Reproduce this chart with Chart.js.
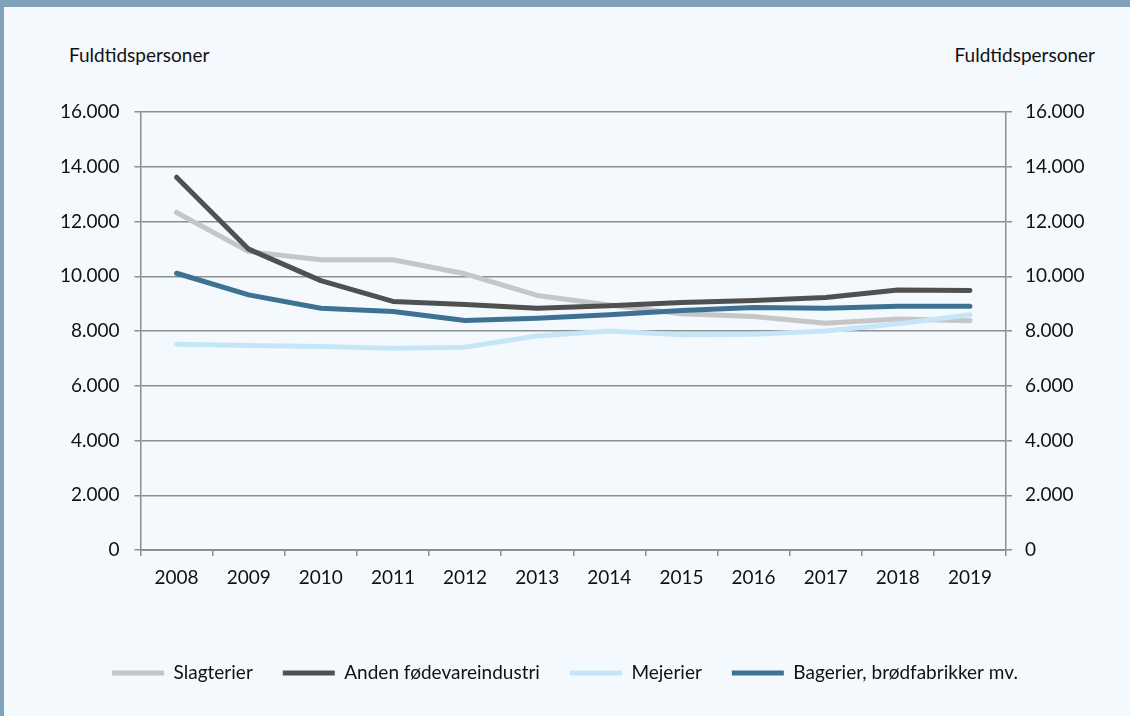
<!DOCTYPE html>
<html lang="da">
<head>
<meta charset="utf-8">
<title>Fuldtidspersoner i fødevareindustrien</title>
<script src="https://cdn.jsdelivr.net/npm/chart.js@4"></script>
<style>
  html, body { margin: 0; padding: 0; }
  body { width: 1130px; height: 716px; background: #F4F9FD; position: relative; overflow: hidden; font-family: Lato, "Open Sans", sans-serif; }
  #topband { position: absolute; left: 0; top: 0; width: 1130px; height: 7px; background: #7FA3B8; }
  #leftband { position: absolute; left: 0; top: 0; width: 4px; height: 716px; background: #7FA3B8; }
  .unit { position: absolute; top: 44px; font-size: 19px; line-height: 1.2; color: #111; }
  #wrap { position: absolute; left: 0; top: 0; width: 1130px; height: 716px; }
</style>
</head>
<body>
<div id="topband"></div>
<div id="leftband"></div>
<div class="unit" style="left:69px">Fuldtidspersoner</div>
<div class="unit" style="right:35px">Fuldtidspersoner</div>
<div id="wrap"><canvas id="graphCanvas"></canvas></div>
<script>
// Aar paa x-aksen
const years = ['2008', '2009', '2010', '2011', '2012', '2013', '2014', '2015', '2016', '2017', '2018', '2019'];

// Fuldtidspersoner pr. branche (aflaest fra figuren)
const slagterier = [12330, 10900, 10600, 10600, 10090, 9300, 8950, 8630, 8530, 8280, 8440, 8370];
const andenFoedevare = [13620, 10990, 9840, 9080, 8970, 8830, 8920, 9040, 9110, 9220, 9500, 9480];
const mejerier = [7520, 7470, 7430, 7370, 7410, 7820, 8000, 7860, 7880, 8000, 8260, 8590];
const bagerier = [10110, 9320, 8830, 8710, 8380, 8470, 8590, 8750, 8860, 8830, 8900, 8900];

// Akse: 0 til 16.000 i trin af 2.000
const yMin = 0, yMax = 16000, yStep = 2000;

const gridColor = '#8E8E8E';
const tickFont = { family: 'Lato, "Open Sans", sans-serif', size: 19 };

function fmt(v) {
    return String(v).replace(/\B(?=(\d{3})+(?!\d))/g, '.');
}

function lineSet(label, data, color) {
    return {
        label: label,
        data: data,
        borderColor: color,
        backgroundColor: color,
        borderWidth: 5,
        borderCapStyle: 'round',
        borderJoinStyle: 'round',
        pointRadius: 0,
        tension: 0,
        yAxisID: 'y'
    };
}

// Sidste serie i Excel ligger oeverst -> vendt raekkefoelge, legenden vendes tilbage
const ctx = document.getElementById('graphCanvas').getContext('2d');
const chart = new Chart(ctx, {
    type: 'line',
    data: {
        labels: years,
        datasets: [
            lineSet('Bagerier, brødfabrikker mv.', bagerier, '#3E7292'),
            lineSet('Mejerier', mejerier, '#C6E6F8'),
            lineSet('Anden fødevareindustri', andenFoedevare, '#505050'),
            lineSet('Slagterier', slagterier, '#C6C6C6')
        ]
    },
    options: {
        responsive: true,
        maintainAspectRatio: false,
        animation: false,
        layout: { padding: { top: 112, bottom: 23.5, left: 0, right: 0 } },
        plugins: {
            tooltip: { enabled: false },
            legend: {
                position: 'bottom',
                reverse: true,
                labels: {
                    boxWidth: 52,
                    boxHeight: 5,
                    padding: 30,
                    color: '#111',
                    font: tickFont,
                    generateLabels: (c) => c.data.datasets.map((ds, i) => ({
                        text: ds.label,
                        fillStyle: ds.borderColor,
                        strokeStyle: ds.borderColor,
                        lineWidth: 0,
                        fontColor: '#111',
                        datasetIndex: i
                    }))
                }
            }
        },
        scales: {
            x: {
                offset: true,
                afterFit: (s) => { s.height = 83.5; },
                grid: { offset: true, drawOnChartArea: false, tickLength: 6, color: gridColor, lineWidth: 1.5 },
                border: { color: gridColor, width: 2 },
                ticks: { color: '#111', font: tickFont, padding: 10.5, maxRotation: 0 }
            },
            y: {
                position: 'left',
                min: yMin,
                max: yMax,
                afterFit: (s) => { s.width = 140.5; },
                grid: { color: gridColor, lineWidth: 1.5, tickLength: 6 },
                border: { color: gridColor, width: 1.5 },
                ticks: { stepSize: yStep, color: '#111', font: tickFont, padding: 15, callback: (v) => fmt(v) }
            },
            y2: {
                position: 'right',
                min: yMin,
                max: yMax,
                afterFit: (s) => { s.width = 124; },
                grid: { drawOnChartArea: false, color: gridColor, lineWidth: 1.5, tickLength: 6 },
                border: { color: gridColor, width: 1.5 },
                ticks: { stepSize: yStep, color: '#111', font: tickFont, padding: 13, callback: (v) => fmt(v) }
            }
        }
    }
});
</script>
</body>
</html>
